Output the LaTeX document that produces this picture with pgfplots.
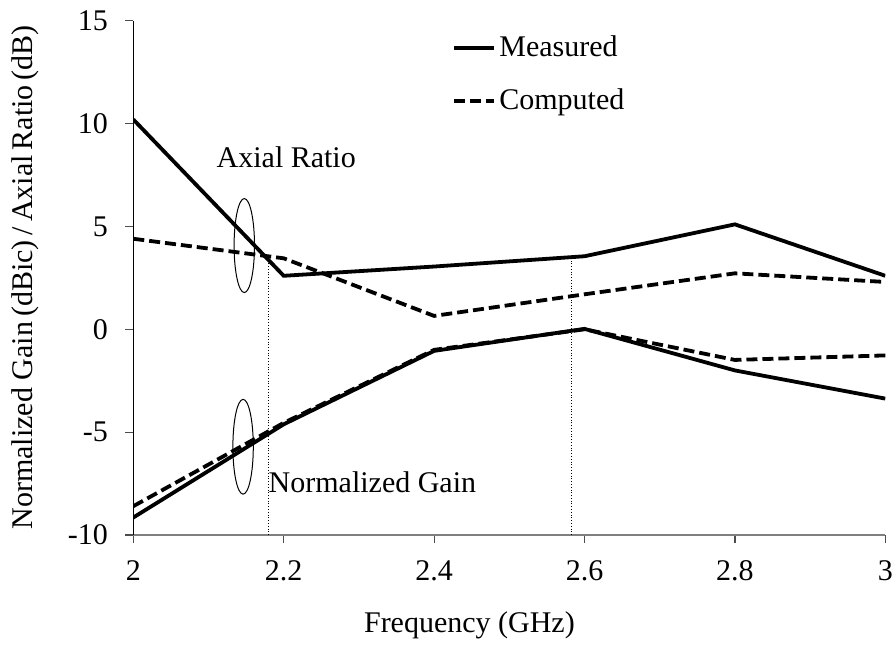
\documentclass[border=0pt]{standalone}
\usepackage{fontspec}
\setmainfont{Liberation Serif}
\usepackage{pgfplots}
\pgfplotsset{compat=1.18}

\begin{document}
\fontsize{15bp}{18bp}\selectfont
\begin{tikzpicture}
% page = 896 x 645 px, 1 px = 0.5 bp
\useasboundingbox (-66.65bp,-55bp) rectangle (381.35bp,267.5bp);
\begin{axis}[
  scale only axis,
  width=376bp, height=257.15bp,
  xmin=2, xmax=3, ymin=-10, ymax=15,
  xtick={2,2.2,...,3}, ytick={-10,-5,...,15},
  axis x line*=bottom, axis y line*=left,
  x axis line style={gray, line width=0.6bp, -},
  y axis line style={black, line width=0.6bp, -},
  tick style={gray!60!black, line width=0.6bp},
  tick align=outside, major tick length=4bp,
  /pgf/number format/assume math mode=true,
  /pgf/number format/fixed,
  ticklabel style={font=\fontsize{15bp}{18bp}\selectfont},
  xticklabel style={yshift=-3.5bp},
  yticklabel style={xshift=-3.5bp},
  label style={font=\fontsize{15bp}{18bp}\selectfont},
  xlabel={Frequency (GHz)},
  ylabel={Normalized Gain\,(dBic)\,/\,Axial\,Ratio\,(dB)},
  every axis x label/.style={at={(axis description cs:0.447,-0.175)}, anchor=center},
  every axis y label/.style={at={(axis description cs:-0.144,0.501)}, rotate=90, anchor=center},
  legend cell align=left,
  legend style={draw=none, fill=none, at={(axis cs:2.424,14.5)}, anchor=north west,
    font=\fontsize{15bp}{18bp}\selectfont, row sep=10bp, inner sep=0pt,
    nodes={inner xsep=1.5bp}},
  legend image code/.code={\draw[#1] (0bp,0bp) -- (20bp,0bp);},
]
% axial ratio
\addplot[black, line width=1.9bp] coordinates {
  (2,10.2) (2.2,2.6) (2.4,3.05) (2.6,3.55) (2.8,5.1) (3,2.6)};
\addlegendentry{Measured}
\addplot[black, line width=1.9bp, dash pattern=on 5.5bp off 2.5bp] coordinates {
  (2,4.4) (2.2,3.45) (2.4,0.65) (2.6,1.7) (2.8,2.72) (3,2.3)};
\addlegendentry{Computed}
% normalized gain
\addplot[black, line width=1.9bp, forget plot] coordinates {
  (2,-9.15) (2.2,-4.62) (2.4,-1.05) (2.6,0.02) (2.8,-2.0) (3,-3.37)};
\addplot[black, line width=1.9bp, dash pattern=on 5.5bp off 2.5bp, forget plot] coordinates {
  (2,-8.6) (2.2,-4.55) (2.4,-1.0) (2.6,0.0) (2.8,-1.49) (3,-1.27)};
% markers
\addplot[black, line width=0.4bp, densely dotted, forget plot] coordinates {(2.18,-10) (2.18,3.56)};
\addplot[black, line width=0.4bp, densely dotted, forget plot] coordinates {(2.582,-10) (2.582,3.4)};
\draw[black, line width=0.5bp] (axis cs:2.1476,4.07) ellipse [x radius=5.1bp, y radius=23.5bp];
\draw[black, line width=0.5bp] (axis cs:2.146,-5.71) ellipse [x radius=5.1bp, y radius=23.7bp];
\node at (axis cs:2.2034,8.36) {Axial Ratio};
\node at (axis cs:2.318,-7.44) {Normalized Gain};
\end{axis}
\end{tikzpicture}
\end{document}
